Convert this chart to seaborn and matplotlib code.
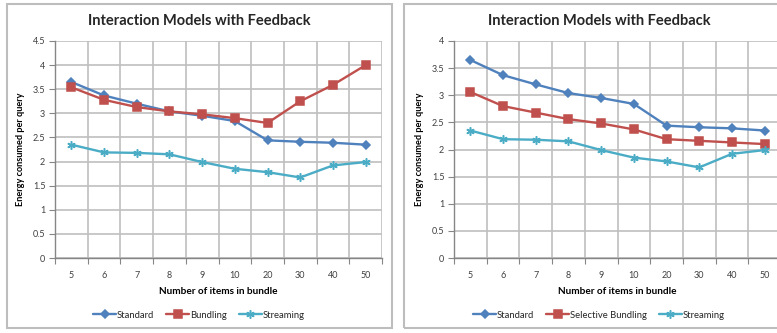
import matplotlib
matplotlib.use("Agg")
import matplotlib.pyplot as plt
from matplotlib.patches import Rectangle
from matplotlib.ticker import FixedLocator
import seaborn as sns

categories = ["5", "6", "7", "8", "9", "10", "20", "30", "40", "50"]
standard = [3.65, 3.37, 3.20, 3.04, 2.95, 2.84, 2.44, 2.41, 2.39, 2.35]
bundling = [3.54, 3.28, 3.13, 3.04, 2.98, 2.90, 2.80, 3.25, 3.59, 4.00]
selective_bundling = [3.06, 2.80, 2.68, 2.56, 2.48, 2.37, 2.19, 2.16, 2.13, 2.10]
streaming = [2.35, 2.19, 2.18, 2.15, 1.99, 1.85, 1.78, 1.67, 1.92, 1.99]

title = "Interaction Models with Feedback"
xlabel = "Number of items in bundle"
ylabel = "Energy consumed per query"

sns.set_theme(style="white")
plt.rcParams["font.family"] = ["Lato", "DejaVu Sans"]

W, H = 777, 333
fig = plt.figure(figsize=(W / 100, H / 100), dpi=100)

BLUE, RED, CYAN = "#4F81BD", "#C0504D", "#4BACC6"
GRID = "#BFBFBF"
AXC = "#868686"


def px_axes(x0, y0, x1, y1):
    return fig.add_axes([x0 / W, 1 - y1 / H, (x1 - x0) / W, (y1 - y0) / H])


def panel(x0, y0, x1, y1):
    fig.patches.append(Rectangle((x0 / W, 1 - y1 / H), (x1 - x0) / W, (y1 - y0) / H,
                                 transform=fig.transFigure, fill=False,
                                 edgecolor="#BDBDBD", lw=1.5, zorder=0))


def draw(ax, names, series, ymax, panel_center_px):
    colors = [BLUE, RED, CYAN]
    markers = ["D", "s", (6, 2, 0)]
    sizes = [4.2, 5.2, 6]
    for name, vals, c, m, ms in zip(names, series, colors, markers, sizes):
        sns.lineplot(x=categories, y=vals, color=c, marker=m, markersize=ms,
                     markeredgecolor=c, markerfacecolor=c, markeredgewidth=1.1,
                     lw=1.7, label=name, ax=ax, sort=False)
    ax.set_xlim(-0.5, len(categories) - 0.5)
    ax.set_ylim(0, ymax)
    yt = [i * 0.5 for i in range(int(ymax / 0.5) + 1)]
    ax.set_yticks(yt)
    ax.set_yticklabels([("%g" % v) for v in yt])
    ax.xaxis.set_minor_locator(FixedLocator([i - 0.5 for i in range(len(categories) + 1)]))
    ax.tick_params(axis="x", which="major", length=0, labelsize=6.5, pad=9, colors="#404040")
    ax.tick_params(axis="x", which="minor", length=4, width=0.8, color=AXC, bottom=True)
    ax.tick_params(axis="y", which="major", length=4, width=0.8, color=AXC, left=True,
                   labelsize=6.5, pad=3, labelcolor="#404040")
    ax.grid(True, which="minor", axis="x", color=GRID, lw=1.2)
    ax.grid(True, which="major", axis="y", color=GRID, lw=1.2)
    ax.grid(False, which="major", axis="x")
    ax.set_axisbelow(True)
    for s in ["top", "right"]:
        ax.spines[s].set_visible(False)
    for s in ["left", "bottom"]:
        ax.spines[s].set_color(AXC)
        ax.spines[s].set_linewidth(1.0)
    ax.set_xlabel(xlabel, fontsize=7.2, fontweight="bold", color="#000000")
    ax.xaxis.set_label_coords(0.5, -0.135)
    ax.set_ylabel(ylabel, fontsize=6.6, fontweight="bold", color="#000000")
    ax.yaxis.set_label_coords(-0.092, 0.5)
    fig.text(panel_center_px / W, 1 - 21 / H, title, ha="center", va="center",
             fontsize=10.5, fontweight="bold")
    handles, labels = ax.get_legend_handles_labels()
    ax.legend(handles, labels, loc="center", ncol=3, frameon=False,
              bbox_to_anchor=(panel_center_px / W, 1 - 315 / H),
              bbox_transform=fig.transFigure, fontsize=6.8, handlelength=2.4,
              handletextpad=0.1, columnspacing=1.3, borderaxespad=0)


panel(7, 4, 392, 328)
panel(404, 4, 800, 328)

ax1 = px_axes(55, 41, 382, 258)
draw(ax1, ["Standard", "Bundling", "Streaming"], [standard, bundling, streaming], 4.5, 199)

ax2 = px_axes(454, 41, 781, 258)
draw(ax2, ["Standard", "Selective Bundling", "Streaming"],
     [standard, selective_bundling, streaming], 4.0, 599)

fig.savefig("out.png", dpi=100)
